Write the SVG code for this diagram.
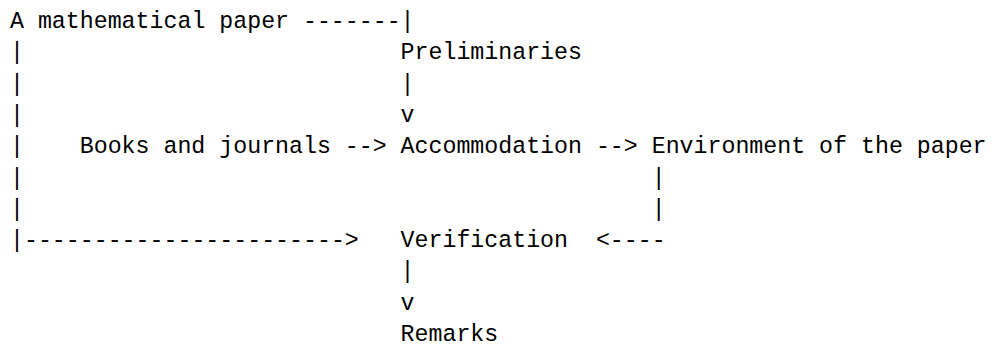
<svg xmlns="http://www.w3.org/2000/svg" width="994" height="349" viewBox="0 0 994 349">
  <style>
    text { font-family: "Liberation Mono", "DejaVu Sans Mono", monospace; font-size: 23.25px; fill: #000; white-space: pre; }
  </style>
  <rect width="994" height="349" fill="#fff"/>
  <!-- character grid: x = 10 + 13.95 * column, baseline = 28 + 31.3 * row -->
  <g id="connectors">
    <text x="302.95" y="28" xml:space="preserve">-------|</text>
    <text x="10" y="59.3">|</text>
    <text x="10" y="90.6">|</text>
    <text x="400.6" y="90.6">|</text>
    <text x="10" y="121.9">|</text>
    <text x="400.6" y="121.9">v</text>
    <text x="10" y="153.2">|</text>
    <text x="344.8" y="153.2">--&gt;</text>
    <text x="595.9" y="153.2">--&gt;</text>
    <text x="10" y="184.5">|</text>
    <text x="651.7" y="184.5">|</text>
    <text x="10" y="215.8">|</text>
    <text x="651.7" y="215.8">|</text>
    <text x="10" y="247.1">|-----------------------&gt;</text>
    <text x="595.9" y="247.1">&lt;----</text>
    <text x="400.6" y="278.4">|</text>
    <text x="400.6" y="309.7">v</text>
  </g>
  <g id="paper"><text x="10" y="28">A mathematical paper</text></g>
  <g id="preliminaries"><text x="400.6" y="59.3">Preliminaries</text></g>
  <g id="books"><text x="79.75" y="153.2">Books and journals</text></g>
  <g id="accommodation"><text x="400.6" y="153.2">Accommodation</text></g>
  <g id="environment"><text x="651.7" y="153.2">Environment of the paper</text></g>
  <g id="verification"><text x="400.6" y="247.1">Verification</text></g>
  <g id="remarks"><text x="400.6" y="341">Remarks</text></g>
</svg>
